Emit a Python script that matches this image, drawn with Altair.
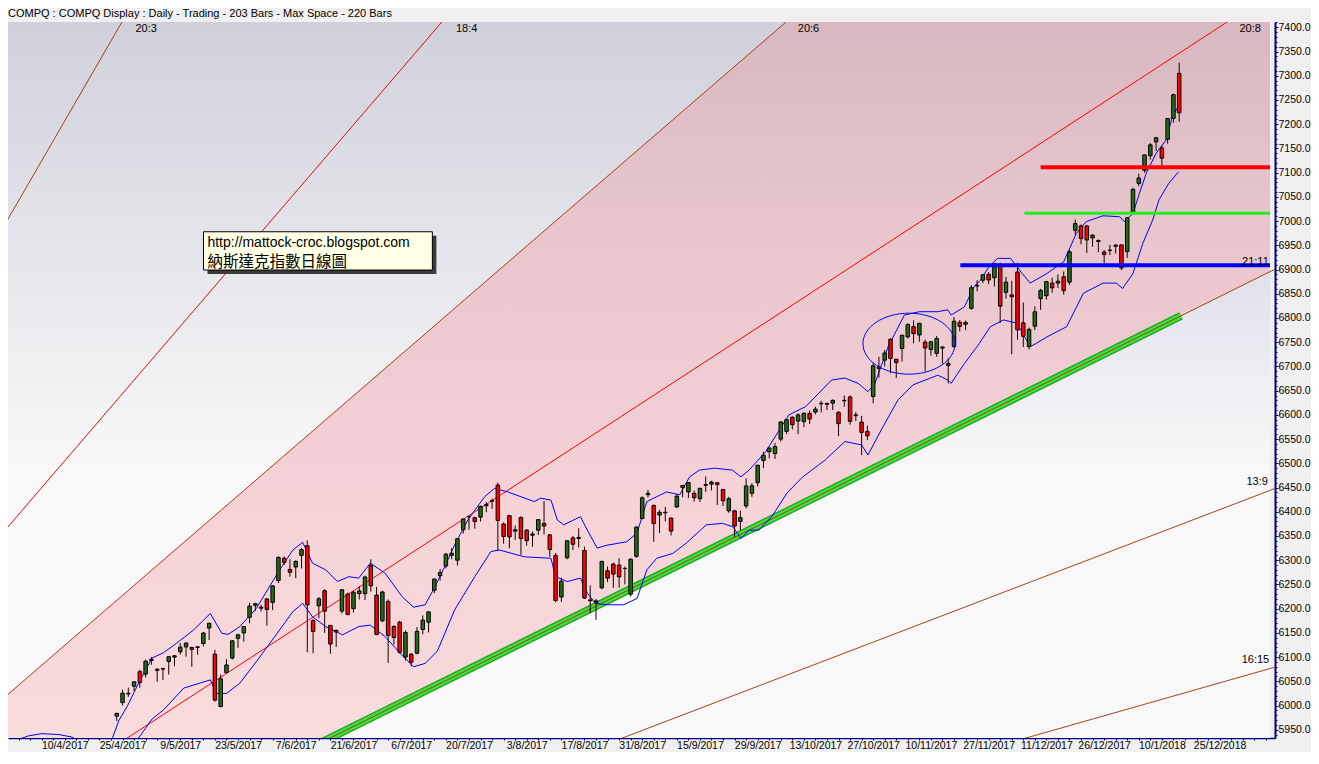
import json
import altair as alt
import pandas as pd

# ---------------- data (bar index 0 = 27/3/2017, one index per trading day) -------------
FIRST_BAR = 18
OPEN = [5919, 5978, 6006, 6024, 6040, 6070, 6065, 6093, 6075, 6076,
        6091, 6100, 6111, 6121, 6120, 6120, 6128, 6160, 6106, 5998,
        6068, 6098, 6146, 6150, 6182, 6207, 6201, 6220, 6213, 6258,
        6304, 6281, 6286, 6310, 6330, 6153, 6206, 6237, 6127, 6155,
        6195, 6230, 6200, 6231, 6231, 6289, 6228, 6175, 6215, 6163,
        6172, 6100, 6106, 6108, 6157, 6172, 6238, 6268, 6288, 6310,
        6300, 6363, 6390, 6380, 6389, 6415, 6422, 6455, 6349, 6392,
        6360, 6388, 6362, 6354, 6362, 6376, 6322, 6310, 6224, 6305,
        6346, 6347, 6320, 6218, 6216, 6243, 6263, 6292, 6290, 6283,
        6230, 6308, 6386, 6438, 6413, 6399, 6399, 6387, 6410, 6450,
        6441, 6438, 6427, 6456, 6457, 6460, 6446, 6402, 6402, 6388,
        6412, 6438, 6460, 6506, 6524, 6520, 6550, 6566, 6595, 6600,
        6586, 6603, 6612, 6623, 6622, 6630, 6582, 6630, 6637, 6600,
        6585, 6566, 6638, 6696, 6713, 6756, 6708, 6737, 6761, 6782,
        6765, 6738, 6735, 6727, 6740, 6702, 6741, 6791, 6787, 6820,
        6866, 6878, 6890, 6883, 6906, 6853, 6844, 6895, 6790, 6741,
        6783, 6857, 6846, 6872, 6872, 6885, 6874, 6981, 6990, 6990,
        6971, 6958, 6931, 6940, 6948, 6951, 6937, 7018, 7089, 7105,
        7135, 7172, 7130, 7169, 7212, 7305]
HIGH = [5922, 5985, 6033, 6037, 6050, 6074, 6095, 6100, 6077, 6078,
        6101, 6104, 6129, 6130, 6121, 6122, 6152, 6170, 6115, 6064,
        6096, 6135, 6148, 6164, 6212, 6212, 6208, 6222, 6249, 6308,
        6308, 6302, 6300, 6325, 6341, 6178, 6224, 6240, 6166, 6157,
        6240, 6233, 6236, 6246, 6268, 6302, 6245, 6237, 6219, 6166,
        6175, 6155, 6108, 6162, 6186, 6195, 6262, 6282, 6315, 6325,
        6345, 6386, 6392, 6390, 6413, 6420, 6427, 6460, 6378, 6393,
        6372, 6391, 6364, 6359, 6384, 6422, 6354, 6315, 6264, 6340,
        6350, 6366, 6328, 6248, 6220, 6299, 6287, 6295, 6304, 6287,
        6304, 6370, 6432, 6445, 6415, 6404, 6410, 6388, 6436, 6455,
        6461, 6444, 6449, 6473, 6464, 6461, 6447, 6431, 6404, 6402,
        6469, 6459, 6497, 6524, 6532, 6542, 6587, 6591, 6597, 6603,
        6604, 6609, 6617, 6629, 6625, 6632, 6608, 6640, 6640, 6606,
        6598, 6578, 6708, 6720, 6734, 6758, 6715, 6765, 6789, 6795,
        6790, 6755, 6752, 6763, 6742, 6717, 6802, 6796, 6795, 6868,
        6878, 6890, 6895, 6913, 6914, 6885, 6877, 6914, 6832, 6780,
        6824, 6860, 6876, 6883, 6890, 6896, 6940, 7003, 6993, 6992,
        6973, 6962, 6940, 6951, 6953, 6951, 7007, 7069, 7098, 7137,
        7161, 7174, 7155, 7212, 7263, 7327]
LOW = [5900, 5968, 6000, 6018, 6030, 6037, 6058, 6084, 6049, 6053,
       6064, 6081, 6105, 6101, 6080, 6105, 6122, 6135, 6008, 5996,
       6066, 6095, 6119, 6132, 6170, 6195, 6194, 6165, 6197, 6253,
       6290, 6266, 6263, 6283, 6110, 6108, 6180, 6150, 6107, 6121,
       6190, 6186, 6192, 6219, 6218, 6235, 6145, 6172, 6088, 6126,
       6107, 6093, 6081, 6106, 6147, 6151, 6232, 6258, 6283, 6302,
       6289, 6355, 6363, 6365, 6380, 6399, 6406, 6320, 6334, 6325,
       6342, 6311, 6330, 6328, 6352, 6353, 6307, 6213, 6214, 6302,
       6321, 6326, 6220, 6191, 6177, 6240, 6255, 6243, 6243, 6250,
       6225, 6305, 6385, 6430, 6338, 6356, 6380, 6351, 6408, 6430,
       6428, 6421, 6420, 6441, 6444, 6414, 6412, 6398, 6348, 6361,
       6407, 6431, 6452, 6490, 6510, 6509, 6545, 6560, 6570, 6560,
       6575, 6581, 6601, 6605, 6610, 6610, 6556, 6617, 6580, 6587,
       6517, 6548, 6624, 6677, 6700, 6686, 6676, 6710, 6758, 6748,
       6751, 6690, 6722, 6720, 6706, 6665, 6738, 6772, 6775, 6817,
       6855, 6872, 6870, 6865, 6790, 6840, 6725, 6755, 6740, 6735,
       6775, 6817, 6838, 6852, 6862, 6848, 6868, 6972, 6952, 6934,
       6947, 6936, 6913, 6930, 6933, 6899, 6924, 7016, 7072, 7100,
       7127, 7145, 7110, 7160, 7203, 7205]
CLOSE = [5910.5, 5983.8, 6025.5, 6025.2, 6048.9, 6047.6, 6091.6, 6095.4, 6072.6, 6075.3,
         6100.8, 6102.7, 6120.6, 6129.1, 6116.0, 6121.2, 6149.7, 6169.9, 6011.2, 6055.1,
         6083.7, 6133.6, 6138.7, 6163.0, 6205.3, 6210.2, 6203.2, 6198.5, 6246.8, 6305.8,
         6295.7, 6275.1, 6297.4, 6321.8, 6207.9, 6175.5, 6220.4, 6194.9, 6165.5, 6151.8,
         6239.0, 6188.0, 6234.0, 6236.7, 6265.3, 6247.2, 6146.6, 6234.4, 6144.4, 6140.4,
         6110.1, 6150.9, 6089.5, 6153.1, 6176.4, 6193.3, 6261.2, 6274.4, 6312.5, 6314.4,
         6344.3, 6385.0, 6390.0, 6387.7, 6410.8, 6412.2, 6422.8, 6382.2, 6374.7, 6348.1,
         6362.9, 6345.0, 6340.3, 6351.6, 6383.8, 6370.5, 6352.3, 6216.9, 6256.6, 6340.2,
         6333.0, 6345.1, 6221.9, 6216.5, 6213.1, 6297.5, 6278.4, 6271.3, 6265.6, 6283.0,
         6301.9, 6368.3, 6428.7, 6435.3, 6375.6, 6393.3, 6397.9, 6360.2, 6432.3, 6454.3,
         6460.2, 6429.1, 6448.5, 6454.6, 6461.3, 6456.0, 6422.7, 6426.9, 6370.6, 6380.2,
         6453.3, 6453.5, 6496.0, 6516.7, 6531.7, 6534.6, 6585.4, 6590.2, 6579.7, 6587.3,
         6603.6, 6591.5, 6605.8, 6624.0, 6623.7, 6624.2, 6605.1, 6629.1, 6586.8, 6598.4,
         6563.9, 6556.8, 6701.3, 6699.0, 6727.7, 6716.5, 6714.9, 6764.4, 6786.4, 6767.8,
         6789.1, 6750.1, 6750.9, 6757.6, 6737.9, 6706.2, 6793.3, 6782.8, 6790.7, 6862.5,
         6867.4, 6889.2, 6878.5, 6912.4, 6824.4, 6874.0, 6847.6, 6775.4, 6762.2, 6776.4,
         6812.8, 6840.1, 6875.1, 6862.3, 6875.8, 6856.5, 6936.6, 6994.8, 6963.9, 6961.0,
         6965.4, 6959.9, 6936.2, 6939.3, 6950.2, 6903.4, 7006.9, 7065.5, 7077.9, 7136.6,
         7157.4, 7163.6, 7151.0, 7211.8, 7261.1, 7223.7]

# band lines (bar index, price)
UB_I = [-0.3, 2.0, 3.6, 6.0, 9.0, 11.2, 12.5, 15.0, 18.0, 19.4, 20.8, 22.6, 25.1, 27.1, 29.4,
        32.3, 35.2, 37.2, 38.3, 40.3, 43.2, 47.2, 49.5, 51.2, 52.9, 55.2, 57.2, 59.2, 60.9, 62.9,
        65.5, 68.4, 70.4, 72.4, 74.1, 75.8, 77.5, 79.8, 82.7, 84.4, 86.7, 89.0, 91.3, 92.4, 94.2,
        95.3, 96.4, 99.3, 100.5, 102.2, 103.9, 107.3, 109.1, 110.8, 112.5, 114.2, 116.5, 118.2, 119.9, 122.5,
        125.6, 127.1, 128.5, 131.4, 135.4, 138.3, 140.6, 142.8, 145.1, 147.4, 149.1, 150.3, 152.6, 155.4, 158.0,
        161.2, 162.9, 163.5, 165.8, 167.5, 168.6, 170.0, 171.5, 173.8, 175.8, 177.2, 180.1, 183.0, 185.2, 186.9,
        189.8, 192.7, 193.5, 195.0, 196.1, 197.3, 199.0, 200.7, 201.8, 203.3]
UB_V = [5925, 5930, 5937, 5942, 5940, 5935, 5926, 5915, 5925, 5970, 5998, 6042, 6098, 6109, 6129,
        6156, 6190, 6149, 6147, 6163, 6201, 6280, 6321, 6337, 6294, 6280, 6256, 6266, 6263, 6294,
        6273, 6225, 6203, 6208, 6245, 6287, 6331, 6383, 6431, 6448, 6441, 6431, 6421, 6428, 6424,
        6383, 6373, 6390, 6362, 6325, 6331, 6338, 6356, 6421, 6431, 6441, 6435, 6472, 6486, 6490,
        6486, 6472, 6486, 6524, 6600, 6617, 6645, 6672, 6676, 6665, 6648, 6665, 6741, 6806, 6813,
        6813, 6817, 6806, 6823, 6865, 6878, 6905, 6923, 6923, 6892, 6872, 6892, 6916, 6975, 6999,
        7011, 7009, 6999, 7016, 7057, 7099, 7140, 7167, 7215, 7246]
LB_I = [22.0, 25.1, 27.1, 30.6, 35.2, 36.3, 38.0, 40.3, 43.2, 47.2, 49.5, 51.2, 52.9, 55.2, 58.1,
        60.9, 62.9, 65.5, 68.4, 70.4, 72.4, 74.5, 75.5, 77.5, 81.0, 83.8, 85.3, 89.6, 94.2, 95.0,
        97.0, 99.3, 100.5, 101.9, 103.9, 106.8, 109.1, 110.8, 112.5, 115.3, 117.6, 121.1, 123.9, 125.7, 127.1,
        128.5, 130.2, 132.5, 135.1, 137.8, 141.7, 145.1, 148.0, 149.1, 151.4, 154.3, 156.9, 161.2, 162.9, 163.5,
        165.8, 168.0, 170.3, 172.6, 174.9, 177.2, 178.3, 180.1, 183.5, 186.4, 189.8, 192.1, 193.2, 195.0, 196.7,
        198.4, 199.5, 201.2, 202.9]
LB_V = [5920, 5972, 5991, 6036, 6053, 6025, 6025, 6046, 6091, 6156, 6194, 6211, 6183, 6163, 6146,
        6163, 6166, 6142, 6104, 6080, 6087, 6112, 6140, 6197, 6266, 6318, 6321, 6307, 6304, 6266,
        6256, 6263, 6232, 6211, 6208, 6208, 6221, 6280, 6304, 6314, 6335, 6373, 6376, 6369, 6345,
        6362, 6362, 6391, 6439, 6472, 6507, 6545, 6538, 6517, 6569, 6631, 6662, 6682, 6672, 6665,
        6706, 6741, 6782, 6796, 6789, 6741, 6748, 6761, 6782, 6851, 6872, 6872, 6861, 6892, 6954,
        7002, 7044, 7078, 7102]

# fan lines: two points each (bar index, price)
FAN_NAMES = ["20:3", "18:4", "20:6", "20:8", "21:11", "13:9", "16:15"]
FAN_I1 = [-0.34, -0.34, -0.34, 20.3, 55.3, 105.7, 175.3]
FAN_V1 = [6994, 6362, 6018, 5929, 5929, 5929, 5929]
FAN_I2 = [19.9, 75.3, 134.9, 211.3, 219.8, 219.8, 219.8]
FAN_V2 = [7411, 7411, 7411, 7411, 6902, 6449, 6080]
FAN_COLORS = ["#a0401a", "#e01010", "#b03818", "#ff0000", "#a0401a", "#a84020", "#a84020"]
FAN_LABEL_I = [24.1, 79.6, 138.8, 215.3, 216.2, 216.5, 216.2]
FAN_LABEL_V = [7396, 7396, 7396, 7396, 6916, 6461, 6094]
GREEN_FROM, GREEN_TO = 40.0, 203.3

# horizontal levels
LEVEL_V = [7111, 7016, 6909]
LEVEL_I0 = [179.0, 176.2, 165.1]
LEVEL_COLORS = ["#ff0000", "#22ee22", "#0000ff"]
LEVEL_WIDTHS = [4, 3, 4]

# ellipse, text box, header
ELLIPSE_I, ELLIPSE_V = 156.2, 6747
BOX_I0, BOX_I1, BOX_V0, BOX_V1 = 34.02, 73.66, 6978, 6899
TEXT_I = 34.7
TEXT_LINES = ["http://mattock-croc.blogspot.com", "納斯達克指數日線圖"]
TEXT_V = [6955, 6916]
HEADER = "COMPQ : COMPQ Display :  Daily  - Trading - 203 Bars -  Max Space - 220 Bars"
DATE_LABELS = ["27/3/2017", "10/4/2017", "25/4/2017", "9/5/2017", "23/5/2017", "7/6/2017",
               "21/6/2017", "6/7/2017", "20/7/2017", "3/8/2017", "17/8/2017", "31/8/2017",
               "15/9/2017", "29/9/2017", "13/10/2017", "27/10/2017", "10/11/2017",
               "27/11/2017", "11/12/2017", "26/12/2017", "10/1/2018", "25/12/2018"]

# ---------------- scales & axes ----------------
PX_PER_BAR = 5.82
PX_PER_POINT = 0.48448
PLOT_W = 1267
X_LEFT = -0.34
X_MIN = 1.03
X_MAX = X_MIN + PLOT_W / PX_PER_BAR
Y_MIN, Y_MAX = 5933, 7411
PLOT_H = round((Y_MAX - Y_MIN) * PX_PER_POINT)
xs = alt.Scale(domain=[X_MIN, X_MAX], nice=False, zero=False)
ys = alt.Scale(domain=[Y_MIN, Y_MAX], nice=False, zero=False)

label_expr = ("datum.value % 10 === 0 ? " + json.dumps(DATE_LABELS) +
              "[datum.value / 10] : ''")
x_axis = alt.Axis(values=list(range(2, 219, 2)), labelExpr=label_expr, title=None,
                  grid=False, tickSize=2, labelPadding=0, labelOverlap=False,
                  labelFlush=False, domainColor="#000080", domainWidth=1.5,
                  tickColor="#000040", labelFont="Liberation Sans", labelFontSize=10.5,
                  labelColor="#000000")
y_axis = alt.Axis(orient="right", values=list(range(5940, 7411, 10)),
                  labelExpr="datum.value % 50 === 0 ? format(datum.value, '.1f') : ''",
                  title=None, grid=False,
                  tickSize={"condition": {"test": "datum.value % 50 === 0", "value": 3}, "value": 2},
                  labelPadding=0, labelOverlap=False, labelFlush=False,
                  domainColor="#000080", domainWidth=2, tickColor="#000080",
                  labelFont="Liberation Sans", labelFontSize=10.5, labelColor="#000000")


def X(f):
    return alt.X(f, type="quantitative", scale=xs, axis=x_axis)


def Y(f):
    return alt.Y(f, type="quantitative", scale=ys, axis=y_axis)


def fan_v(name, i):
    k = FAN_NAMES.index(name)
    return FAN_V1[k] + (FAN_V2[k] - FAN_V1[k]) * (i - FAN_I1[k]) / (FAN_I2[k] - FAN_I1[k])


def fan_i(name, v):
    k = FAN_NAMES.index(name)
    return FAN_I1[k] + (FAN_I2[k] - FAN_I1[k]) * (v - FAN_V1[k]) / (FAN_V2[k] - FAN_V1[k])


# ---------------- frames ----------------
df = pd.DataFrame({"o": OPEN, "h": HIGH, "l": LOW, "c": CLOSE})
df["i"] = list(range(FIRST_BAR, FIRST_BAR + len(df)))
prev = [CLOSE[0]] + CLOSE[:-1]
df["dir"] = ["up" if c >= p else "down" for c, p in zip(CLOSE, prev)]

ub = pd.DataFrame({"i": UB_I, "v": UB_V})
lb = pd.DataFrame({"i": LB_I, "v": LB_V})

i_top = fan_i("20:6", Y_MAX)
i_bot = fan_i("21:11", Y_MIN)
regA = pd.DataFrame({"i": [X_LEFT, i_top], "v": [fan_v("20:6", X_LEFT), Y_MAX], "v2": [Y_MAX, Y_MAX]})
pts = sorted([X_LEFT, i_bot, i_top, X_MAX])
regB = pd.DataFrame({"i": pts,
                     "v": [min(fan_v("20:6", p), Y_MAX) for p in pts],
                     "v2": [max(fan_v("21:11", p), Y_MIN) for p in pts]})
regC = pd.DataFrame({"i": [i_bot, X_MAX], "v": [Y_MIN, fan_v("21:11", X_MAX)], "v2": [Y_MIN, Y_MIN]})

fan_rows = []
for n, a, b, c2, d in zip(FAN_NAMES, FAN_I1, FAN_V1, FAN_I2, FAN_V2):
    fan_rows.append({"fan": n, "i": a, "v": b, "k": 0})
    fan_rows.append({"fan": n, "i": c2, "v": d, "k": 1})
fan = pd.DataFrame(fan_rows)
fan_lab = pd.DataFrame({"fan": FAN_NAMES, "i": FAN_LABEL_I, "v": FAN_LABEL_V})
green = pd.DataFrame({"i": [GREEN_FROM, GREEN_TO],
                      "v": [fan_v("21:11", GREEN_FROM), fan_v("21:11", GREEN_TO)]})
ell = pd.DataFrame({"i": [ELLIPSE_I], "v": [ELLIPSE_V]})
box = pd.DataFrame({"i0": [BOX_I0], "i1": [BOX_I1], "v0": [BOX_V0], "v1": [BOX_V1]})
txt1 = pd.DataFrame({"i": [TEXT_I], "v": [TEXT_V[0]], "t": [TEXT_LINES[0]]})
txt2 = pd.DataFrame({"i": [TEXT_I], "v": [TEXT_V[1]], "t": [TEXT_LINES[1]]})
hdr = pd.DataFrame({"t": [HEADER]})


def grad(stops):
    return alt.Gradient(gradient="linear", x1=0, x2=0, y1=0, y2=1,
                        stops=[alt.GradientStop(offset=o, color=c) for o, c in stops])


layers = []
layers.append(alt.Chart(regA).mark_area(clip=True, color=grad(
    [(0, "#cfd0d9"), (0.33, "#e4e5ea"), (0.66, "#f8f8f8"), (1, "#f8f8f8")])).encode(
    x=X("i"), y=Y("v"), y2="v2"))
layers.append(alt.Chart(regB).mark_area(clip=True, color=grad(
    [(0, "#d8b8c0"), (0.3, "#e8c6cc"), (0.55, "#f1ced3"), (0.7, "#f5d3d7"), (1, "#f8dbdb")])).encode(
    x=X("i"), y=Y("v"), y2="v2"))
layers.append(alt.Chart(regC).mark_area(clip=True, color=grad(
    [(0, "#e0e0ec"), (0.42, "#f8f8f8"), (1, "#f8f8f8")])).encode(
    x=X("i"), y=Y("v"), y2="v2"))
layers.append(alt.Chart(green).mark_line(clip=True, color="#1fa31f", strokeWidth=8).encode(
    x=X("i"), y=Y("v")))
layers.append(alt.Chart(green).mark_line(clip=True, color="#3ee03e", strokeWidth=5.5).encode(
    x=X("i"), y=Y("v")))
layers.append(alt.Chart(fan).mark_line(clip=True, strokeWidth=1).encode(
    x=X("i"), y=Y("v"), detail="fan:N", order="k:Q",
    color=alt.Color("fan:N", scale=alt.Scale(domain=FAN_NAMES, range=FAN_COLORS), legend=None)))
layers.append(alt.Chart(ub).mark_line(clip=True, color="#0000ff", strokeWidth=1).encode(
    x=X("i"), y=Y("v")))
layers.append(alt.Chart(lb).mark_line(clip=True, color="#0000ff", strokeWidth=1).encode(
    x=X("i"), y=Y("v")))
layers.append(alt.Chart(df).mark_rule(clip=True, color="#1a0000", strokeWidth=1).encode(
    x=X("i"), y=Y("l"), y2="h"))
layers.append(alt.Chart(df).mark_bar(clip=True, size=3.5, stroke="#000000", strokeWidth=1).encode(
    x=X("i"), y=Y("o"), y2="c",
    fill=alt.Fill("dir:N", scale=alt.Scale(domain=["up", "down"], range=["#246b18", "#ff0000"]),
                  legend=None)))
for lv, li0, lc, lw in zip(LEVEL_V, LEVEL_I0, LEVEL_COLORS, LEVEL_WIDTHS):
    lvl = pd.DataFrame({"i0": [li0], "i1": [X_MAX], "v": [lv]})
    layers.append(alt.Chart(lvl).mark_rule(clip=True, strokeWidth=lw, color=lc).encode(
        x=X("i0"), x2="i1", y=Y("v")))
layers.append(alt.Chart(ell).mark_point(
    clip=True, shape="M-1,0A1,0.663,0,1,0,1,0A1,0.663,0,1,0,-1,0Z", size=8464,
    filled=False, stroke="#0000ff", strokeWidth=1, opacity=1).encode(x=X("i"), y=Y("v")))
layers.append(alt.Chart(fan_lab).mark_text(font="Liberation Sans", fontSize=11,
                                           color="#000000").encode(
    x=X("i"), y=Y("v"), text="fan:N"))
layers.append(alt.Chart(box).mark_rect(clip=True, fill="#3a3a3a", xOffset=4, x2Offset=4,
                                       yOffset=4, y2Offset=4).encode(
    x=X("i0"), x2="i1", y=Y("v0"), y2="v1"))
layers.append(alt.Chart(box).mark_rect(clip=True, fill="#ffffe6", stroke="#000000",
                                       strokeWidth=1).encode(
    x=X("i0"), x2="i1", y=Y("v0"), y2="v1"))
layers.append(alt.Chart(txt1).mark_text(align="left", baseline="middle", font="Liberation Sans",
                                        fontSize=14, color="#000000").encode(
    x=X("i"), y=Y("v"), text="t:N"))
layers.append(alt.Chart(txt2).mark_text(align="left", baseline="middle", font="Noto Sans CJK TC",
                                        fontSize=15.5, color="#000000").encode(
    x=X("i"), y=Y("v"), text="t:N"))
layers.append(alt.Chart(hdr).mark_text(align="left", baseline="middle", font="Liberation Sans",
                                       fontSize=11, color="#000000").encode(
    x=alt.value(0), y=alt.value(-8), text="t:N"))

chart = alt.layer(*layers).properties(
    width=PLOT_W, height=PLOT_H,
    padding={"left": 0, "top": 14, "right": 36, "bottom": 744 - 14 - PLOT_H},
    autosize=alt.AutoSizeParams(type="none"),
    background="#f0f0f0",
).configure_view(stroke=None)

chart.save("out.html", embed_options={"renderer": "svg", "actions": False})
